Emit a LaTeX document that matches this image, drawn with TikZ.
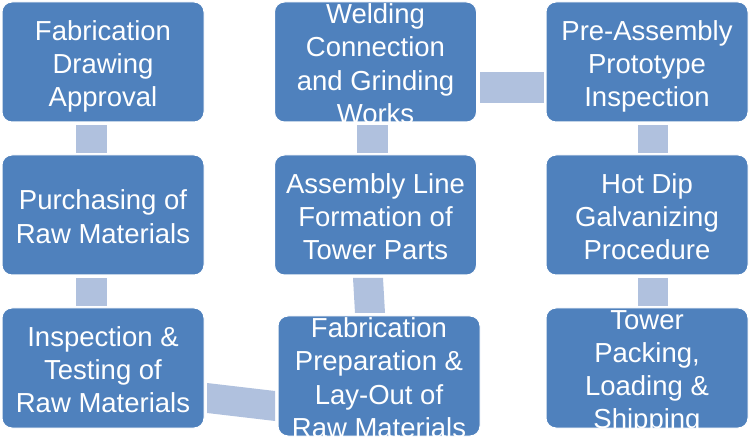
\documentclass[tikz,border=0pt]{standalone}
\usepackage{fontspec}
\setmainfont{Liberation Sans}
\usetikzlibrary{calc}
\definecolor{boxblue}{RGB}{79,129,189}
\definecolor{connblue}{RGB}{176,193,222}
\tikzset{
  box/.style={draw=white, line width=1pt, fill=boxblue, rounded corners=10pt,
    minimum width=202pt, minimum height=120pt, inner sep=0pt, outer sep=0pt},
  txt/.style={text=white, align=center, inner sep=0pt, yshift=-6.5pt,
    font=\fontsize{27.5}{33.3}\selectfont,
    execute at begin node=\strut, execute at end node=\strut},
  conn/.style={fill=connblue, draw=none}
}
\begin{document}
\begin{tikzpicture}[x=1pt,y=-1pt]
\useasboundingbox (0,0) rectangle (750,438);
% boxes
\node[box] (A) at (103,62) {};
\node[box] (B) at (103,215) {};
\node[box] (C) at (103,368) {};
\node[box] (D) at (379,376) {};
\node[box] (E) at (375.5,215) {};
\node[box] (F) at (375.5,62) {};
\node[box] (G) at (647,62) {};
\node[box] (H) at (647,215) {};
\node[box] (I) at (647,368) {};
% connectors
\fill[conn] ($(A.south)+(-27,3)$) rectangle ($(B.north)+(4,-2)$);
\fill[conn] ($(B.south)+(-27,3)$) rectangle ($(C.north)+(4,-2)$);
\fill[conn] ($(C.east)+(3,15)$) -- ($(D.west)+(-3,15)$) -- ($(D.west)+(-3,45)$) -- ($(C.east)+(3,45)$) -- cycle;
\fill[conn] ($(D.north)+(-26,-38)$) -- ($(D.north)+(4,-38)$) -- ($(D.north)+(6,-3)$) -- ($(D.north)+(-24,-3)$) -- cycle;
\fill[conn] ($(F.south)+(-18.5,3)$) rectangle ($(E.north)+(12.5,-2)$);
\fill[conn] ($(F.east)+(3,10)$) rectangle ($(G.west)+(-2,41)$);
\fill[conn] ($(G.south)+(-9,3)$) rectangle ($(H.north)+(21,-2)$);
\fill[conn] ($(H.south)+(-9,3)$) rectangle ($(I.north)+(21,-2)$);
% texts
\node[txt] at (A) {Fabrication\\Drawing\\Approval};
\node[txt] at (B) {Purchasing of\\Raw Materials};
\node[txt] at (C) {Inspection \&\\Testing of\\Raw Materials};
\node[txt] at (D) {Fabrication\\Preparation \&\\Lay-Out of\\Raw Materials};
\node[txt] at (E) {Assembly Line\\Formation of\\Tower Parts};
\node[txt] at (F) {Welding\\Connection\\and Grinding\\Works};
\node[txt] at (G) {Pre-Assembly\\Prototype\\Inspection};
\node[txt] at (H) {Hot Dip\\Galvanizing\\Procedure};
\node[txt] at (I) {Tower\\Packing,\\Loading \&\\Shipping};
\end{tikzpicture}
\end{document}
